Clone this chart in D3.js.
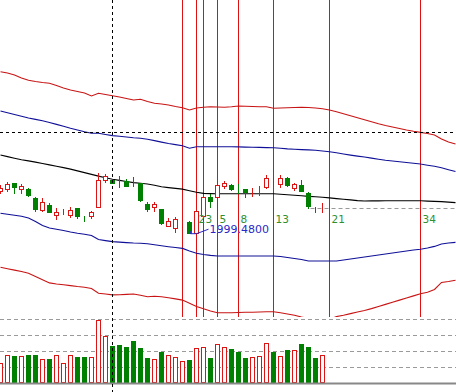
<!DOCTYPE html>
<meta charset="utf-8">
<style>
body { margin: 0; background: #fff; }
svg { display: block; }
.grid line { stroke: #9a9a9a; stroke-dasharray: 4,3; }
</style>
<svg width="456" height="392"></svg>
<script src="https://d3js.org/d3.v7.min.js"></script>
<script>

// candles: open, high, low, close
var opens  = [2003.70,2003.93,2004.47,2003.87,2003.90,2002.97,2001.73,2002.30,2001.37,2001.47,
              2001.30,2002.00,2000.97,2001.13,2002.13,2004.80,2004.80,2004.75,2004.70,2004.75,
              2004.47,2002.40,2002.03,2001.87,2000.27,1999.97,2000.58,2000.63,1999.53,2001.13,
              2003.07,2003.07,2004.20,2004.30,2003.95,2003.90,2003.55,2003.68,2004.07,2004.92,
              2004.40,2005.03,2003.97,2004.30,2003.50,2001.88,2001.92];
var highs  = [2004.30,2004.63,2004.47,2004.40,2004.00,2003.10,2002.97,2002.53,2001.97,2001.90,
              2002.13,2002.03,2001.20,2001.73,2005.53,2005.40,2004.85,2005.20,2004.87,2005.13,
              2004.50,2002.57,2002.57,2001.90,2000.97,2001.07,2000.70,2000.70,2002.13,2003.20,
              2003.40,2004.40,2004.70,2004.37,2004.40,2003.95,2003.97,2004.20,2005.30,2005.13,
              2005.30,2005.13,2004.53,2004.77,2003.65,2002.13,2002.47];
var lows   = [2003.50,2003.73,2003.53,2003.53,2003.20,2001.73,2001.70,2001.60,2000.90,2001.45,
              2001.13,2000.97,2000.73,2000.97,2002.10,2004.63,2004.50,2004.13,2004.17,2004.20,
              2002.70,2001.73,2001.73,2000.40,2000.20,1999.63,2000.50,1999.48,1999.50,2001.10,
              2002.13,2002.90,2003.97,2003.80,2003.47,2003.13,2003.23,2003.30,2004.00,2004.63,
              2004.13,2004.25,2003.80,2003.70,2001.97,2001.63,2001.63];
var closes = [2004.00,2004.40,2004.07,2004.20,2003.30,2001.87,2002.57,2001.63,2001.63,2001.50,
              2001.80,2001.20,2000.93,2001.57,2004.80,2005.20,2004.53,2004.70,2004.20,2004.70,
              2002.73,2001.90,2002.37,2000.47,2000.73,2000.87,2000.60,1999.53,2001.73,2003.07,
              2002.63,2004.30,2004.53,2003.87,2003.90,2003.63,2003.58,2003.72,2004.97,2004.88,
              2004.97,2004.30,2004.40,2003.73,2002.25,2001.85,2001.95];
var volumes = [1294,1750,1688,1688,1750,1750,1544,1500,1750,1294,
               1750,1625,1625,1625,3981,2938,2331,2394,2250,2625,
               2206,1563,1500,1956,1750,1625,1375,1438,2188,2250,
               1563,2438,2250,2125,1956,1563,1625,1688,2500,1956,
               1688,2063,2063,2456,2250,1563,1750];

// envelope bands, one value per bar (projected past the last candle)
var upperOuter = [2015.63,2015.50,2015.30,2015.00,2014.77,2014.65,2014.55,2014.47,2014.25,2014.00,
                  2013.80,2013.65,2013.50,2013.20,2013.47,2013.35,2013.23,2013.10,2012.95,2012.80,
                  2012.87,2012.65,2012.47,2012.40,2012.30,2012.15,2012.03,2011.80,2012.00,2012.08,
                  2012.12,2012.10,2012.07,2012.12,2012.20,2012.18,2012.15,2012.13,2012.13,2011.97,
                  2012.00,2012.03,2012.05,2012.07,2012.05,2012.00,2011.93,2011.80,2011.63,2011.43,
                  2011.23,2011.03,2010.83,2010.63,2010.43,2010.25,2010.10,2009.95,2009.80,2009.67,
                  2009.56,2009.45,2009.30,2008.90,2008.60,2008.40];
var upperInner = [2011.70,2011.52,2011.35,2011.17,2011.00,2010.86,2010.72,2010.55,2010.36,2010.17,
                  2009.97,2009.80,2009.62,2009.47,2009.47,2009.35,2009.24,2009.17,2009.10,2009.03,
                  2008.98,2008.88,2008.74,2008.59,2008.45,2008.34,2008.22,2007.98,2008.12,2008.13,
                  2008.13,2008.13,2008.13,2008.12,2008.11,2008.09,2008.07,2008.06,2008.04,2008.03,
                  2007.97,2007.91,2007.87,2007.84,2007.81,2007.78,2007.70,2007.63,2007.52,2007.40,
                  2007.29,2007.19,2007.10,2006.99,2006.88,2006.78,2006.70,2006.63,2006.55,2006.47,
                  2006.40,2006.28,2006.17,2006.02,2005.83,2005.65];
var middle     = [2007.30,2007.14,2006.98,2006.83,2006.71,2006.59,2006.45,2006.31,2006.18,2006.04,
                  2005.89,2005.71,2005.54,2005.36,2005.19,2005.02,2004.88,2004.76,2004.65,2004.54,
                  2004.47,2004.40,2004.28,2004.12,2004.04,2003.96,2003.89,2003.73,2003.57,2003.46,
                  2003.44,2003.43,2003.43,2003.43,2003.43,2003.43,2003.43,2003.43,2003.43,2003.43,
                  2003.38,2003.32,2003.27,2003.22,2003.16,2003.13,2003.08,2003.01,2002.94,2002.88,
                  2002.81,2002.74,2002.70,2002.71,2002.71,2002.72,2002.72,2002.73,2002.73,2002.73,
                  2002.73,2002.69,2002.66,2002.64,2002.59,2002.54];
var lowerInner = [2001.47,2001.38,2001.28,2001.18,2001.00,2000.65,2000.25,2000.00,1999.87,1999.75,
                  1999.60,1999.48,1999.38,1999.25,1998.85,1998.74,1998.64,1998.59,1998.54,1998.50,
                  1998.48,1998.42,1998.32,1998.22,1998.13,1998.05,1997.96,1997.70,1997.48,1997.35,
                  1997.26,1997.20,1997.20,1997.20,1997.20,1997.20,1997.20,1997.20,1997.20,1997.20,
                  1997.15,1997.05,1996.95,1996.85,1996.70,1996.70,1996.70,1996.70,1996.70,1996.80,
                  1996.90,1997.00,1997.10,1997.20,1997.30,1997.40,1997.50,1997.60,1997.70,1997.80,
                  1997.88,1998.00,1998.16,1998.40,1998.50,1998.56];
var lowerOuter = [1996.07,1995.93,1995.79,1995.65,1995.47,1995.15,1994.83,1994.51,1994.40,1994.32,
                  1994.24,1994.15,1994.08,1993.95,1993.48,1993.40,1993.31,1993.33,1993.36,1993.40,
                  1993.27,1993.13,1993.18,1993.13,1993.02,1992.91,1992.79,1992.48,1992.16,1991.92,
                  1991.70,1991.53,1991.53,1991.53,1991.55,1991.57,1991.58,1991.60,1991.62,1991.63,
                  1991.52,1991.40,1991.27,1991.10,1990.95,1990.85,1990.80,1990.87,1991.14,1991.28,
                  1991.44,1991.60,1991.75,1991.94,1992.15,1992.36,1992.58,1992.79,1993.00,1993.21,
                  1993.42,1993.58,1993.85,1994.56,1994.65,1994.78];

// fibonacci time zones: bar index and label
var fibBars   = [26, 28, 29, 31, 34, 39, 47, 60];
var fibLabels = ["", "2", "3", "5", "8", "13", "21", "34"];

var crossBar = 16, crossPrice = 2009.57;
var lowBar = 27, lowLabel = "1999.4800";
var volTicks = [1000, 2000, 3000, 4000];

var svg = d3.select("svg"),
    width = +svg.attr("width"),
    height = +svg.attr("height");

var mainBottom = 318;

var x = d3.scaleLinear().domain([0, 65]).range([0.5, 455.5]);
var y = d3.scaleLinear().domain([1991.0, 2022.8]).range([mainBottom, 0]);
var yv = d3.scaleLinear().domain([0, 4000]).range([383.3, 319.3]);

var RED = "#dc1414", GREEN = "#008000";

svg.append("clipPath").attr("id", "main")
  .append("rect").attr("width", width).attr("height", mainBottom - 1);

var main = svg.append("g").attr("clip-path", "url(#main)");

// volume grid
svg.append("g").attr("class", "grid")
  .selectAll("line")
  .data(volTicks)
  .enter().append("line")
  .attr("x1", 0).attr("x2", width)
  .attr("y1", function(d) { return Math.round(yv(d)) + 0.5; })
  .attr("y2", function(d) { return Math.round(yv(d)) + 0.5; });

// fib time zone lines
main.selectAll("line.fib")
  .data(fibBars)
  .enter().append("line")
  .attr("class", "fib")
  .attr("x1", function(d) { return x(d); })
  .attr("x2", function(d) { return x(d); })
  .attr("y1", 0).attr("y2", mainBottom)
  .attr("stroke", "#e01010").attr("stroke-width", 1)
  .attr("shape-rendering", "crispEdges");

// bands
var bandLine = d3.line()
  .x(function(d, i) { return x(i); })
  .y(function(d) { return y(d); });

[[upperOuter, "#c81414"], [upperInner, "#101098"], [middle, "#000"],
 [lowerInner, "#101098"], [lowerOuter, "#c81414"]].forEach(function(b) {
  main.append("path")
    .datum(b[0])
    .attr("d", bandLine)
    .attr("fill", "none")
    .attr("stroke", b[1])
    .attr("stroke-width", 1.1);
});

// last price line
var lastI = closes.length - 1;
main.append("line")
  .attr("x1", x(lastI) - 12).attr("x2", width)
  .attr("y1", Math.round(y(closes[lastI])) + 0.5)
  .attr("y2", Math.round(y(closes[lastI])) + 0.5)
  .attr("stroke", "#999").attr("stroke-dasharray", "4,3");

// candles
var candles = d3.range(closes.length).map(function(i) {
  return { i: i, o: opens[i], h: highs[i], l: lows[i], c: closes[i], v: volumes[i] };
});

var cg = main.append("g").attr("shape-rendering", "crispEdges");

cg.selectAll("line.wick")
  .data(candles)
  .enter().append("line")
  .attr("x1", function(d) { return x(d.i); })
  .attr("x2", function(d) { return x(d.i); })
  .attr("y1", function(d) { return y(d.h); })
  .attr("y2", function(d) { return y(d.l) + 1; })
  .attr("stroke", function(d) { return d.c >= d.o ? RED : GREEN; });

cg.selectAll("rect.body")
  .data(candles)
  .enter().append("rect")
  .attr("x", function(d) { return x(d.i) - 2; })
  .attr("width", 4)
  .attr("y", function(d) { return Math.round(y(Math.max(d.o, d.c))) + 0.5; })
  .attr("height", function(d) { return Math.max(0, Math.round(Math.abs(y(d.o) - y(d.c)))); })
  .attr("fill", function(d) { return d.c >= d.o ? "#fff" : GREEN; })
  .attr("stroke", function(d) { return d.c >= d.o ? RED : GREEN; });

// low price marker
var lx = x(lowBar), ly = y(lows[lowBar]);
main.append("path")
  .attr("d", "M" + (lx + 1) + "," + (ly - 2) + "V" + (ly + 0.5) + "H" + (lx + 7) + "L" + (lx + 19) + "," + (ly - 4))
  .attr("fill", "none").attr("stroke", "#2828c8");
main.append("text")
  .attr("x", lx + 20).attr("y", ly)
  .attr("font-family", "DejaVu Sans").attr("font-size", 11)
  .attr("fill", "#2828c8")
  .text(lowLabel);

// fib labels
main.selectAll("text.fib")
  .data(fibBars)
  .enter().append("text")
  .attr("x", function(d) { return x(d) + 2; })
  .attr("y", 222.5)
  .attr("font-family", "DejaVu Sans").attr("font-size", 10.5)
  .attr("fill", "#2f8f2f")
  .text(function(d, i) { return fibLabels[i]; });

// volume bars
var vg = svg.append("g").attr("shape-rendering", "crispEdges");
vg.selectAll("rect")
  .data(candles)
  .enter().append("rect")
  .attr("x", function(d) { return x(d.i) - 2; })
  .attr("width", 4)
  .attr("y", function(d) { return Math.round(yv(d.v)) + 0.5; })
  .attr("height", function(d) { return Math.round(yv(0)) - Math.round(yv(d.v)) - 1; })
  .attr("fill", function(d) { return d.c >= d.o ? "#fff" : GREEN; })
  .attr("stroke", function(d) { return d.c >= d.o ? RED : GREEN; });

svg.append("line")
  .attr("x1", 0).attr("x2", width)
  .attr("y1", 383.5).attr("y2", 383.5)
  .attr("stroke", "#888").attr("stroke-width", 2);

// crosshair
svg.append("line")
  .attr("x1", x(crossBar)).attr("x2", x(crossBar))
  .attr("y1", 0).attr("y2", height)
  .attr("stroke", "#000").attr("stroke-dasharray", "3,3")
  .attr("shape-rendering", "crispEdges");
svg.append("line")
  .attr("x1", 0).attr("x2", width)
  .attr("y1", Math.round(y(crossPrice)) + 0.5).attr("y2", Math.round(y(crossPrice)) + 0.5)
  .attr("stroke", "#000").attr("stroke-dasharray", "3,3")
  .attr("shape-rendering", "crispEdges");

</script>
